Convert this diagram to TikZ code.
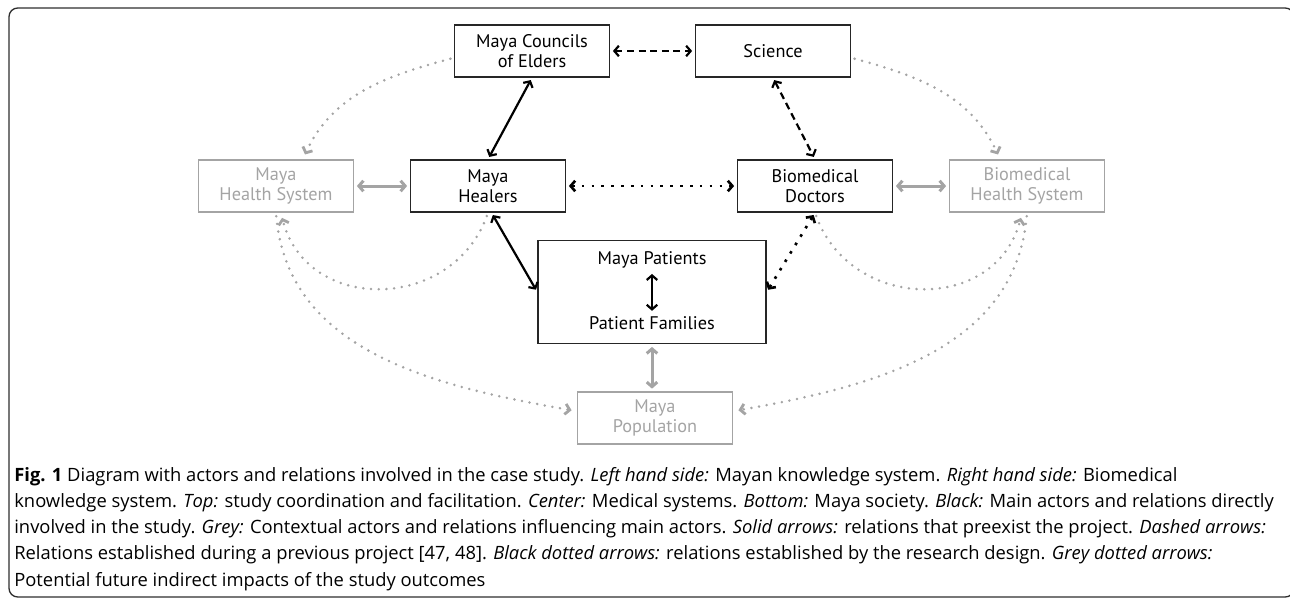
\documentclass[tikz,border=0pt]{standalone}
\usepackage{fontspec}
\setmainfont{Open Sans}
\newfontfamily\boxfont{PT Sans}
\usetikzlibrary{arrows.meta}

\definecolor{lightgrey}{HTML}{A4A4A4}
\definecolor{framegrey}{HTML}{2E2E2E}

\begin{document}
\begin{tikzpicture}[
    x=0.02cm, y=0.02cm,
    >={Straight Barb[length=2.6pt,width=6pt]},
    box/.style = {draw=black!85, line width=0.85pt, minimum width=3.1cm,
                  minimum height=1.04cm, inner sep=0pt, align=center,
                  font=\boxfont\fontsize{10.4}{11.4}\selectfont},
    gbox/.style = {box, draw=lightgrey, text=lightgrey},
    plain/.style = {inner sep=0pt, font=\boxfont\fontsize{10.4}{11.4}\selectfont},
    link/.style = {<->, line width=1.25pt, shorten <=1.5pt, shorten >=1.5pt},
    dashlink/.style = {link, dash pattern=on 4pt off 2.6pt},
    dotlink/.style = {link, line width=1.5pt, dash pattern=on 1.5pt off 4.1pt},
    greylink/.style = {link, draw=lightgrey, line width=1.7pt},
    greydot/.style = {->, draw=lightgrey, line width=1.6pt, line cap=round,
                      dash pattern=on 0pt off 4.4pt, shorten <=2pt, shorten >=3pt}
  ]
  \useasboundingbox (0,0) rectangle (1290,-599);
  \clip (0,0) rectangle (1290,-599);
  \draw[framegrey, line width=0.75pt, rounded corners=5pt] (9,-8) rectangle (1294,-597);
%
  \node[box]  (cou) at (532,-51)  {Maya Councils\\of Elders};
  \node[box]  (sci) at (773,-51)  {Science};
  \node[gbox] (mhs) at (276,-186) {Maya\\Health System};
  \node[box]  (hea) at (488,-186) {Maya\\Healers};
  \node[box]  (doc) at (815,-186) {Biomedical\\Doctors};
  \node[gbox] (bhs) at (1027,-186) {Biomedical\\Health System};
  \node[box, minimum width=4.56cm, minimum height=2.06cm] (pat) at (652,-292) {};
  \node[plain] (mp) at (652,-260) {Maya Patients};
  \node[plain] (pf) at (652,-323) {Patient Families};
  \node[gbox] (pop) at (655,-418) {Maya\\Population};
%
  \draw[dashlink] (cou) -- (sci);
  \draw[link] (cou.south) -- (hea.north);
  \draw[dashlink] (sci.south) -- (doc.north);
  \draw[dotlink] (hea) -- (doc);
  \draw[link] ([xshift=2pt]hea.south) -- (pat.west);
  \draw[dotlink] (doc.south) -- (pat.east);
  \draw[link, shorten <=3pt, shorten >=3pt] (mp) -- (pf);
  \draw[greylink] (mhs) -- (hea);
  \draw[greylink] (doc) -- (bhs);
  \draw[greylink] (pat.south) -- (pat.south |- pop.north);
%
  \draw[greydot] (cou.185) to[out=195,in=65] (mhs.45);
  \draw[greydot] (sci.-5) to[out=-15,in=115] (bhs.135);
  \draw[greydot] (hea.south) to[out=-110,in=-75,looseness=1.3] (mhs.-80);
  \draw[greydot] (doc.south) to[out=-70,in=-105,looseness=1.3] (bhs.-100);
  \draw[greydot] (mhs.south) to[out=-85,in=170] (pop.175);
  \draw[greydot] (bhs.south) to[out=-95,in=10] (pop.5);
%
  \node[anchor=north west, inner sep=0pt, align=left,
        font=\fontsize{10.45}{14.9}\selectfont] (cap) at (14,-467)
  {\textbf{Fig. 1} Diagram with actors and relations involved in the case study. \textit{Left hand side:} Mayan knowledge system. \textit{Right hand side:} Biomedical\\
   knowledge system. \textit{Top:} study coordination and facilitation. \textit{Center:} Medical systems. \textit{Bottom:} Maya society. \textit{Black:} Main actors and relations directly\\
   involved in the study. \textit{Grey:} Contextual actors and relations influencing main actors. \textit{Solid arrows:} relations that preexist the project. \textit{Dashed arrows:}\\
   Relations established during a previous project [47, 48]. \textit{Black dotted arrows:} relations established by the research design. \textit{Grey dotted arrows:}\\
   Potential future indirect impacts of the study outcomes};
\end{tikzpicture}
\end{document}
